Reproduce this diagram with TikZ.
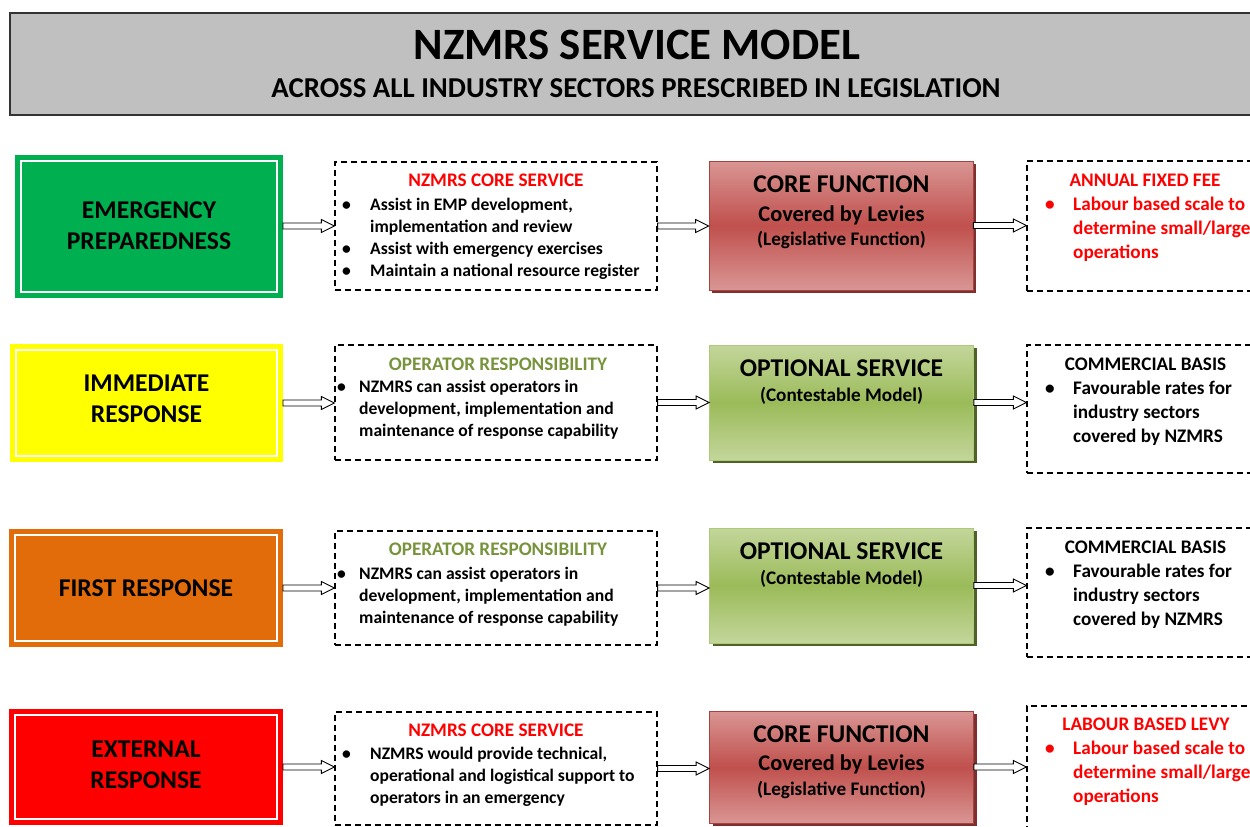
\documentclass[tikz,border=0pt]{standalone}
\usepackage{fontspec}
\setmainfont{Carlito}
\usetikzlibrary{positioning,calc,shadows}

\definecolor{hdrgray}{HTML}{C0C0C0}
\definecolor{epgreen}{HTML}{00B050}
\definecolor{iryellow}{HTML}{FFFF00}
\definecolor{frorange}{HTML}{E36C0A}
\definecolor{erred}{HTML}{FF0000}
\definecolor{coretop}{HTML}{D99694}
\definecolor{coremid}{HTML}{C0504D}
\definecolor{coreshade}{HTML}{7F2F2D}
\definecolor{opttop}{HTML}{C3D69B}
\definecolor{optmid}{HTML}{9BBB59}
\definecolor{optshade}{HTML}{4F6228}
\definecolor{oprgreen}{HTML}{77933C}

% open block arrow from the east side of #1 to the west side of #2
\newcommand\flowarrow[2]{%
  \draw[flow] ($(#1.east)+(0,3)$) -- ($(#1.east -| #2.west)+(-13,3)$) -- ++(0,3.5)
    -- (#1.east -| #2.west) -- ++(-13,-6.5) -- ++(0,3.5) -- ($(#1.east)+(0,-3)$) -- cycle;}

\begin{document}
\begin{tikzpicture}[x=1pt, y=-1pt,
  sector/.style={line width=5pt, double=white, double distance=2pt, inner sep=0pt, outer sep=6pt,
    align=center, font=\fontsize{25.6}{31}\selectfont\bfseries},
  dashbox/.style={draw, line width=1.2pt, dash pattern=on 6pt off 4pt, inner sep=0pt},
  corebox/.style={draw=coremid!85!black, line width=0.8pt, inner sep=0pt,
    top color=coretop, bottom color=coretop, middle color=coremid,
    drop shadow={shadow xshift=3pt, shadow yshift=-3pt, fill=coreshade, opacity=1}},
  optbox/.style={draw=optmid!80!white, line width=0.8pt, inner sep=0pt,
    top color=opttop, bottom color=opttop, middle color=optmid,
    drop shadow={shadow xshift=3pt, shadow yshift=-3pt, fill=optshade, opacity=1}},
  hd/.style={anchor=base, inner sep=0pt, font=\fontsize{19.2}{22}\selectfont\bfseries},
  body/.style={anchor=base west, inner sep=0pt, font=\fontsize{17.6}{22}\selectfont\bfseries},
  feehd/.style={anchor=base, inner sep=0pt, font=\fontsize{19.2}{24}\selectfont\bfseries},
  feebody/.style={anchor=base west, inner sep=0pt, font=\fontsize{19.2}{24}\selectfont\bfseries},
  flow/.style={draw, fill=white, line width=0.9pt, line join=miter}]

\useasboundingbox (0,0) rectangle (1250,827);
\clip (0,0) rectangle (1250,827);

% header
\node[draw=black!80, line width=1.5pt, fill=hdrgray, minimum width=1255pt, minimum height=102pt, inner sep=0pt] (header) at (637.5,64) {};
\node[anchor=base, inner sep=0pt, font=\fontsize{44.8}{50}\selectfont\bfseries] (title) at (637,59) {NZMRS SERVICE MODEL};
\node[anchor=base, inner sep=0pt, font=\fontsize{28.8}{34}\selectfont\bfseries] (subtitle) at (636,97) {ACROSS ALL INDUSTRY SECTORS PRESCRIBED IN LEGISLATION};

% sectors
\node[sector, draw=epgreen, fill=epgreen, minimum width=256pt, minimum height=131pt] (prep) at (149,226) {EMERGENCY\\PREPAREDNESS};
\node[sector, draw=iryellow, fill=iryellow, minimum width=261pt, minimum height=106pt, text depth=8pt] (immed) at (146.5,403) {IMMEDIATE\\RESPONSE};
\node[sector, draw=frorange, fill=frorange, minimum width=262pt, minimum height=106pt] (first) at (146,588) {FIRST RESPONSE};
\node[sector, draw=erred, fill=erred, minimum width=262pt, minimum height=104pt, text depth=4pt] (ext) at (146,767) {EXTERNAL\\RESPONSE};

% services
\node[dashbox, minimum width=322pt, minimum height=128pt] (svcA) at (496,226) {};
\node[dashbox, minimum width=322pt, minimum height=115pt] (svcB) at (496,402.5) {};
\node[dashbox, minimum width=322pt, minimum height=114pt] (svcC) at (496,588) {};
\node[dashbox, minimum width=322pt, minimum height=113pt] (svcD) at (496,768.5) {};

\node[hd, text=erred] (svcAhd) at (496,186) {NZMRS CORE SERVICE};
\node[body] (svcAtx) at (342,210) {\begin{tabular}[t]{@{}p{28pt}@{}l@{}}
  \textbullet & Assist in EMP development,\\
              & implementation and review\\
  \textbullet & Assist with emergency exercises\\
  \textbullet & Maintain a national resource register\end{tabular}};

\node[hd, text=oprgreen] (svcBhd) at (498,370) {OPERATOR RESPONSIBILITY};
\node[body] (svcBtx) at (337,392) {\begin{tabular}[t]{@{}p{22pt}@{}l@{}}
  \textbullet & NZMRS can assist operators in\\
              & development, implementation and\\
              & maintenance of response capability\end{tabular}};

\node[hd, text=oprgreen] (svcChd) at (498,555) {OPERATOR RESPONSIBILITY};
\node[body] (svcCtx) at (337,579) {\begin{tabular}[t]{@{}p{22pt}@{}l@{}}
  \textbullet & NZMRS can assist operators in\\
              & development, implementation and\\
              & maintenance of response capability\end{tabular}};

\node[hd, text=erred] (svcDhd) at (496,736) {NZMRS CORE SERVICE};
\node[body] (svcDtx) at (342,759) {\begin{tabular}[t]{@{}p{28pt}@{}l@{}}
  \textbullet & NZMRS would provide technical,\\
              & operational and logistical support to\\
              & operators in an emergency\end{tabular}};

% functions
\node[corebox, minimum width=264pt, minimum height=129pt] (coreA) at (841,225.5) {};
\node[optbox, minimum width=264pt, minimum height=115pt] (optB) at (841.5,402.5) {};
\node[optbox, minimum width=264pt, minimum height=115pt] (optC) at (841.5,585.5) {};
\node[corebox, minimum width=264pt, minimum height=112pt] (coreD) at (841.5,767) {};

\node[anchor=base, inner sep=0pt, font=\fontsize{25.6}{30}\selectfont\bfseries] (coreAt) at (841.5,192) {CORE FUNCTION};
\node[anchor=base, inner sep=0pt, font=\fontsize{22.4}{27}\selectfont\bfseries] (coreAs) at (841.5,221) {Covered by Levies};
\node[anchor=base, inner sep=0pt, font=\fontsize{19.2}{23}\selectfont\bfseries] (coreAl) at (841.5,245) {(Legislative Function)};

\node[anchor=base, inner sep=0pt, font=\fontsize{25.6}{30}\selectfont\bfseries] (optBt) at (841.5,376) {OPTIONAL SERVICE};
\node[anchor=base, inner sep=0pt, font=\fontsize{19.2}{23}\selectfont\bfseries] (optBl) at (841.5,401) {(Contestable Model)};

\node[anchor=base, inner sep=0pt, font=\fontsize{25.6}{30}\selectfont\bfseries] (optCt) at (841.5,559) {OPTIONAL SERVICE};
\node[anchor=base, inner sep=0pt, font=\fontsize{19.2}{23}\selectfont\bfseries] (optCl) at (841.5,584) {(Contestable Model)};

\node[anchor=base, inner sep=0pt, font=\fontsize{25.6}{30}\selectfont\bfseries] (coreDt) at (841.5,742) {CORE FUNCTION};
\node[anchor=base, inner sep=0pt, font=\fontsize{22.4}{27}\selectfont\bfseries] (coreDs) at (841.5,770) {Covered by Levies};
\node[anchor=base, inner sep=0pt, font=\fontsize{19.2}{23}\selectfont\bfseries] (coreDl) at (841.5,795) {(Legislative Function)};

% charging
\node[dashbox, minimum width=238pt, minimum height=130pt] (feeA) at (1146,226) {};
\node[dashbox, minimum width=238pt, minimum height=128pt] (feeB) at (1146,409) {};
\node[dashbox, minimum width=238pt, minimum height=129pt] (feeC) at (1146,592.5) {};
\node[dashbox, minimum width=238pt, minimum height=144pt] (feeD) at (1146,778) {};

\node[feehd, text=erred] (feeAhd) at (1145,186) {ANNUAL FIXED FEE};
\node[feebody, text=erred] (feeAtx) at (1045,210) {\begin{tabular}[t]{@{}p{28pt}@{}l@{}}
  \textbullet & Labour based scale to\\
              & determine small/large\\
              & operations\end{tabular}};

\node[feehd] (feeBhd) at (1145.5,370) {COMMERCIAL BASIS};
\node[feebody] (feeBtx) at (1045,394) {\begin{tabular}[t]{@{}p{28pt}@{}l@{}}
  \textbullet & Favourable rates for\\
              & industry sectors\\
              & covered by NZMRS\end{tabular}};

\node[feehd] (feeChd) at (1145.5,553) {COMMERCIAL BASIS};
\node[feebody] (feeCtx) at (1045,577) {\begin{tabular}[t]{@{}p{28pt}@{}l@{}}
  \textbullet & Favourable rates for\\
              & industry sectors\\
              & covered by NZMRS\end{tabular}};

\node[feehd, text=erred] (feeDhd) at (1146,730) {LABOUR BASED LEVY};
\node[feebody, text=erred] (feeDtx) at (1045,754) {\begin{tabular}[t]{@{}p{28pt}@{}l@{}}
  \textbullet & Labour based scale to\\
              & determine small/large\\
              & operations\end{tabular}};

% arrows
\flowarrow{prep}{svcA}
\flowarrow{svcA}{coreA}
\flowarrow{coreA}{feeA}
\flowarrow{immed}{svcB}
\flowarrow{svcB}{optB}
\flowarrow{optB}{feeB}
\flowarrow{first}{svcC}
\flowarrow{svcC}{optC}
\flowarrow{optC}{feeC}
\flowarrow{ext}{svcD}
\flowarrow{svcD}{coreD}
\flowarrow{coreD}{feeD}

\end{tikzpicture}
\end{document}
